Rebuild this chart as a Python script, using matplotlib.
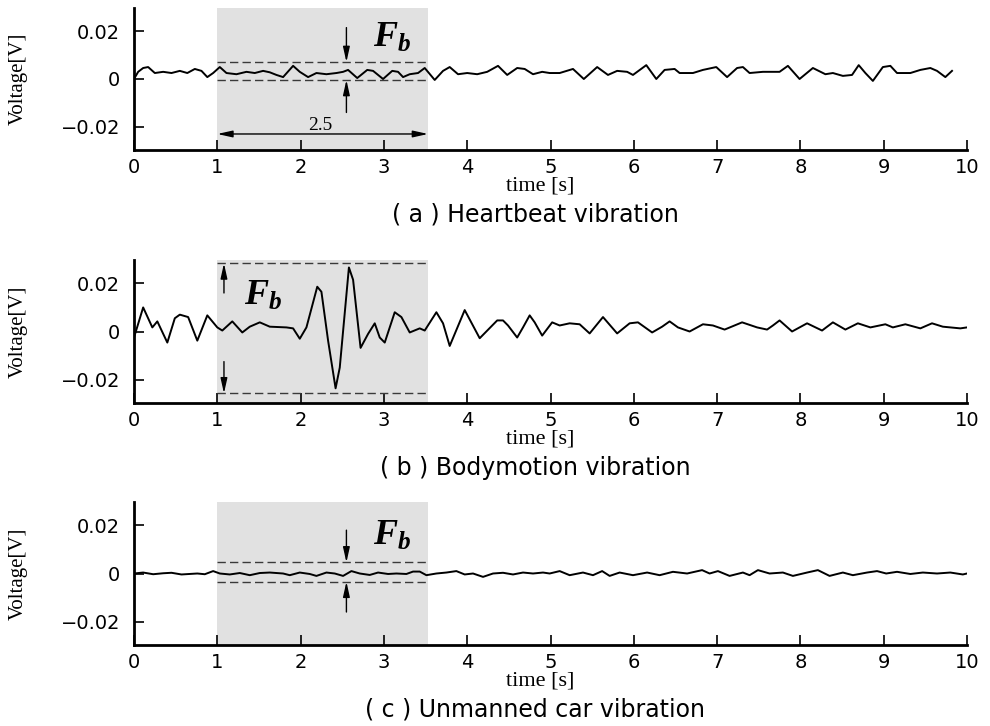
import matplotlib
matplotlib.use("Agg")
import matplotlib.pyplot as plt

plt.rcParams['font.family'] = ['DejaVu Sans']
plt.rcParams['mathtext.fontset'] = 'custom'
plt.rcParams['mathtext.it'] = 'Liberation Serif:italic:bold'
plt.rcParams['mathtext.rm'] = 'Liberation Serif:bold'

# (a) heartbeat vibration
t_a = [0.0, 0.05, 0.11, 0.17, 0.25, 0.35, 0.45, 0.55, 0.64, 0.73, 0.81, 0.88, 0.95,
       1.03, 1.11, 1.23, 1.35, 1.45, 1.55, 1.63, 1.71, 1.79, 1.91, 1.99, 2.09, 2.19,
       2.31, 2.43, 2.51, 2.57, 2.68, 2.80, 2.87, 2.99, 3.10, 3.17, 3.23, 3.31, 3.41,
       3.49, 3.61, 3.71, 3.79, 3.89, 4.00, 4.12, 4.24, 4.37, 4.48, 4.60, 4.69, 4.79,
       4.90, 4.99, 5.11, 5.27, 5.40, 5.56, 5.69, 5.80, 5.92, 5.99, 6.15, 6.27, 6.37,
       6.49, 6.55, 6.71, 6.83, 6.99, 7.12, 7.24, 7.31, 7.39, 7.55, 7.75, 7.85, 7.99,
       8.15, 8.30, 8.39, 8.51, 8.62, 8.70, 8.78, 8.87, 8.99, 9.08, 9.16, 9.32, 9.44,
       9.56, 9.64, 9.74, 9.82]
v_a = [0.0000, 0.0030, 0.0046, 0.0050, 0.0025, 0.0030, 0.0025, 0.0034, 0.0025, 0.0042,
       0.0034, 0.0008, 0.0025, 0.0050, 0.0025, 0.0020, 0.0030, 0.0025, 0.0034, 0.0028,
       0.0017, 0.0008, 0.0055, 0.0030, 0.0008, 0.0025, 0.0020, 0.0025, 0.0030, 0.0038,
       0.0004, 0.0038, 0.0034, 0.0000, 0.0034, 0.0030, 0.0008, 0.0020, 0.0025, 0.0046,
       -0.0004, 0.0034, 0.0050, 0.0020, 0.0025, 0.0020, 0.0030, 0.0055, 0.0017, 0.0046,
       0.0042, 0.0020, 0.0030, 0.0025, 0.0025, 0.0042, 0.0000, 0.0050, 0.0017, 0.0034,
       0.0030, 0.0017, 0.0058, 0.0000, 0.0038, 0.0042, 0.0025, 0.0025, 0.0038, 0.0050,
       0.0008, 0.0046, 0.0050, 0.0025, 0.0030, 0.0030, 0.0055, 0.0000, 0.0046, 0.0020,
       0.0025, 0.0013, 0.0017, 0.0058, 0.0025, -0.0008, 0.0050, 0.0055, 0.0025, 0.0025,
       0.0038, 0.0046, 0.0034, 0.0008, 0.0034]

# (b) bodymotion vibration
t_b = [0.0, 0.11, 0.22, 0.28, 0.40, 0.49, 0.55, 0.65, 0.76, 0.88, 1.00, 1.06, 1.18,
       1.30, 1.39, 1.51, 1.63, 1.83, 1.91, 1.99, 2.07, 2.20, 2.25, 2.33, 2.42, 2.47,
       2.58, 2.63, 2.72, 2.81, 2.89, 2.95, 3.01, 3.13, 3.21, 3.31, 3.43, 3.49, 3.63,
       3.71, 3.79, 3.97, 4.15, 4.36, 4.43, 4.49, 4.60, 4.67, 4.75, 4.81, 4.90, 5.02,
       5.11, 5.23, 5.35, 5.47, 5.63, 5.80, 5.95, 6.05, 6.22, 6.34, 6.43, 6.53, 6.67,
       6.83, 6.95, 7.09, 7.30, 7.48, 7.60, 7.67, 7.75, 7.90, 8.08, 8.26, 8.39, 8.54,
       8.69, 8.84, 9.02, 9.11, 9.26, 9.44, 9.58, 9.71, 9.92, 10.0]
v_b = [-0.0025, 0.0100, 0.0017, 0.0042, -0.0046, 0.0055, 0.0070, 0.0060, -0.0038,
       0.0067, 0.0017, 0.0004, 0.0042, -0.0004, 0.0020, 0.0038, 0.0020, 0.0017, 0.0013,
       -0.0030, 0.0017, 0.0186, 0.0165, -0.0038, -0.0236, -0.0150, 0.0266, 0.0215,
       -0.0068, -0.0010, 0.0034, -0.0025, -0.0046, 0.0080, 0.0060, -0.0004, 0.0013,
       0.0004, 0.0080, 0.0034, -0.0060, 0.0089, -0.0028, 0.0046, 0.0046, 0.0025, -0.0025,
       0.0017, 0.0067, 0.0038, -0.0017, 0.0038, 0.0025, 0.0034, 0.0030, -0.0008, 0.0060,
       -0.0008, 0.0034, 0.0038, -0.0004, 0.0020, 0.0042, 0.0017, 0.0000, 0.0030, 0.0025,
       0.0008, 0.0038, 0.0017, 0.0008, 0.0025, 0.0046, 0.0000, 0.0034, 0.0004, 0.0038,
       0.0008, 0.0034, 0.0017, 0.0030, 0.0017, 0.0030, 0.0013, 0.0034, 0.0020, 0.0013,
       0.0017]

# (c) unmanned car vibration
t_c = [0.0, 0.11, 0.23, 0.35, 0.45, 0.57, 0.76, 0.85, 0.95, 1.03, 1.15, 1.27, 1.39,
       1.51, 1.63, 1.79, 1.87, 1.99, 2.11, 2.19, 2.31, 2.41, 2.51, 2.61, 2.71, 2.83,
       2.93, 3.05, 3.15, 3.27, 3.35, 3.43, 3.51, 3.63, 3.75, 3.87, 3.97, 4.07, 4.19,
       4.31, 4.43, 4.55, 4.67, 4.79, 4.91, 4.99, 5.11, 5.23, 5.39, 5.51, 5.62, 5.71,
       5.83, 5.99, 6.16, 6.31, 6.47, 6.64, 6.82, 6.91, 7.01, 7.15, 7.31, 7.39, 7.49,
       7.63, 7.79, 7.91, 8.08, 8.21, 8.35, 8.51, 8.63, 8.80, 8.92, 9.03, 9.16, 9.32,
       9.47, 9.64, 9.80, 9.95, 10.0]
v_c = [0.0000, 0.0004, -0.0003, 0.0001, 0.0003, -0.0004, 0.0000, -0.0003, 0.0010,
       0.0000, -0.0004, 0.0002, -0.0007, 0.0002, 0.0004, 0.0000, -0.0007, 0.0004,
       -0.0002, -0.0010, 0.0004, 0.0000, -0.0010, 0.0010, 0.0000, -0.0006, 0.0004,
       -0.0002, 0.0000, -0.0002, 0.0008, 0.0008, -0.0007, 0.0000, 0.0004, 0.0010,
       -0.0004, 0.0000, -0.0014, 0.0000, 0.0003, -0.0004, 0.0004, 0.0000, 0.0004,
       0.0000, 0.0010, -0.0007, 0.0004, -0.0007, 0.0010, -0.0010, 0.0004, -0.0007,
       0.0004, -0.0007, 0.0007, 0.0000, 0.0014, 0.0000, 0.0010, -0.0010, 0.0004,
       -0.0007, 0.0014, 0.0000, 0.0004, -0.0010, 0.0004, 0.0014, -0.0010, 0.0004,
       -0.0007, 0.0004, 0.0010, 0.0000, 0.0007, -0.0002, 0.0004, 0.0000, 0.0004,
       -0.0004, 0.0000]

win_start, win_end = 1.0, 3.53
band_a = (0.0071, -0.0004)
band_b = (0.0283, -0.0257)
band_c = (0.0046, -0.0034)

captions = ["( a ) Heartbeat vibration", "( b ) Bodymotion vibration",
            "( c ) Unmanned car vibration"]
xticks = list(range(0, 11))
yticks = [-0.02, 0, 0.02]
ytick_labels = ["\u22120.02", "0", "0.02"]

fig = plt.figure(figsize=(9.9, 7.26), dpi=100)
W, H = 990, 726
boxes = [(8, 150), (260, 403), (502, 645)]  # top, bottom in pixels


def add_axes(top, bottom):
    return fig.add_axes([134 / W, 1 - bottom / H, 833 / W, (bottom - top) / H])


def arrow(ax, x, y0, y1):
    ax.annotate("", xy=(x, y1), xytext=(x, y0),
                arrowprops=dict(arrowstyle="-|>,head_length=0.9,head_width=0.2",
                                color="black", lw=1.0, shrinkA=0, shrinkB=0))


series = [(t_a, v_a, band_a), (t_b, v_b, band_b), (t_c, v_c, band_c)]
axes = []
for i, ((top, bottom), (t, v, band)) in enumerate(zip(boxes, series)):
    ax = add_axes(top, bottom)
    axes.append(ax)
    ax.axvspan(win_start, win_end, color="#e1e1e1", lw=0, zorder=0)
    ax.plot(t, v, color="black", lw=1.4, zorder=3)
    for yb in band:
        ax.hlines(yb, win_start, win_end, colors="#3a3a3a", lw=1.0,
                  linestyles=(0, (6, 3)), zorder=2)
    ax.set_xlim(0, 10)
    ax.set_ylim(-0.0297, 0.0297)
    ax.set_xticks(xticks)
    ax.set_yticks(yticks)
    ax.set_yticklabels(ytick_labels)
    ax.tick_params(direction="in", length=7, width=1.2, labelsize=14)
    ax.tick_params(axis="x", pad=6)
    ax.tick_params(axis="y", pad=10)
    for s in ["top", "right"]:
        ax.spines[s].set_visible(False)
    for s in ["left", "bottom"]:
        ax.spines[s].set_linewidth(2)
    ax.set_ylabel("Voltage[V]", family="Liberation Serif", fontsize=15)
    ax.yaxis.set_label_coords(-0.127, 0.5)
    ax.patch.set_alpha(0)
    # labels below axis
    fig.text(540 / W, 1 - (bottom + 36) / H, "time [s]", family="Liberation Serif",
             fontsize=16, ha="center", va="center")
    fig.text(535 / W, 1 - (bottom + 65) / H, captions[i], fontsize=17,
             ha="center", va="center")

ax_a, ax_b, ax_c = axes

# (a) annotations
arrow(ax_a, 2.55, 0.0215, band_a[0])
arrow(ax_a, 2.55, -0.0140, band_a[1])
ax_a.text(3.1, 0.0175, r"$F_b$", fontsize=26, ha="center", va="center")
ax_a.annotate("", xy=(win_start, -0.023), xytext=(win_end, -0.023),
              arrowprops=dict(arrowstyle="<|-|>,head_length=0.9,head_width=0.2",
                              color="black", lw=1.0, shrinkA=0, shrinkB=0))
ax_a.text(2.24, -0.0195, "2.5", family="Liberation Serif", fontsize=14,
          ha="center", va="center")

# (b) annotations
arrow(ax_b, 1.08, 0.0160, band_b[0])
arrow(ax_b, 1.08, -0.0125, band_b[1])
ax_b.text(1.55, 0.0150, r"$F_b$", fontsize=26, ha="center", va="center")

# (c) annotations
arrow(ax_c, 2.55, 0.0180, band_c[0])
arrow(ax_c, 2.55, -0.0160, band_c[1])
ax_c.text(3.1, 0.0160, r"$F_b$", fontsize=26, ha="center", va="center")

fig.savefig("out.png", dpi=100)
